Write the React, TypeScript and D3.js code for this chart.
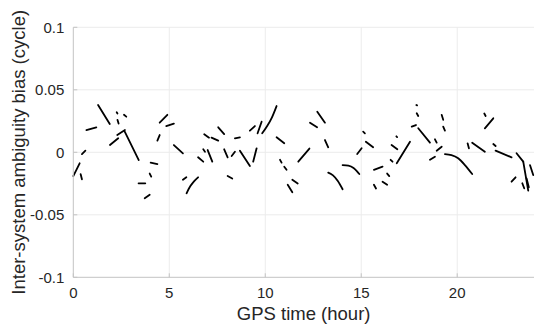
import React from "react";
import * as d3 from "d3";

// Each entry is one continuous ambiguity-bias arc: GPS time (hour) and bias (cycle)
const segmentHours: number[][] = [
  [0, 0.33], [0.38, 0.45], [0.45, 0.63], [0.68, 1.2], [1.29, 1.9],
  [1.91, 2.34], [2.29, 2.69], [2.68, 3.41], [2.26, 2.3], [2.3, 2.36],
  [2.64, 2.76], [4.03, 4.38], [3.98, 4.06], [3.4, 3.75], [3.72, 3.98],
  [4.5, 4.9], [4.84, 5.24], [4.38, 4.5], [5.24, 5.71], [5.71, 5.89],
  [5.9, 6.1, 6.3, 6.5], [6.5, 6.77], [6.77, 6.86], [7.0, 7.24], [6.82, 7.07],
  [7.2, 7.55], [7.55, 7.86], [7.86, 8.04], [8.25, 8.42], [8.42, 8.68],
  [8.04, 8.28], [8.68, 9.2], [9.37, 9.55], [9.2, 9.46], [9.6, 9.81],
  [9.84, 10.1, 10.35, 10.59], [10.59, 10.99], [10.77, 10.85], [10.99, 11.11], [11.17, 11.41],
  [11.41, 11.69], [11.72, 12.3], [12.33, 12.7], [12.71, 13.11], [13.11, 13.28],
  [13.28, 13.53, 13.78, 14.03], [14.03, 14.33, 14.6, 14.77, 14.9], [14.79, 15.02], [15.1, 15.19], [15.24, 15.62],
  [15.66, 16.11], [15.66, 15.77], [16.11, 16.35], [16.35, 16.46], [16.53, 16.63],
  [16.58, 16.88], [16.83, 16.87], [16.85, 17.54], [17.63, 17.85], [17.89, 17.97],
  [17.87, 17.91], [17.97, 18.58], [19.19, 19.27], [19.27, 19.36], [18.84, 18.93],
  [18.93, 19.19], [18.58, 18.84], [19.36, 19.7, 20.05, 20.4, 20.78], [20.54, 20.61], [20.78, 21.44],
  [21.41, 21.48], [21.44, 21.88], [21.88, 22.0], [22.0, 22.83], [23.09, 23.44],
  [23.44, 23.7], [23.79, 23.96], [22.83, 23.04], [23.39, 23.49], [23.61, 23.73],
];

const segmentBias: number[][] = [
  [-0.019, -0.0088], [-0.0174, -0.0216], [-0.0014, 0.0013], [0.0178, 0.02], [0.0378, 0.0226],
  [0.0058, 0.0112], [0.0138, 0.0178], [0.0165, -0.0062], [0.032, 0.031], [0.026, 0.023],
  [0.03, 0.0285], [-0.0083, -0.0094], [-0.017, -0.0195], [-0.0248, -0.0248], [-0.0368, -0.034],
  [0.0237, 0.03], [0.021, 0.023], [0.0093, 0.0138], [0.0058, -0.0008], [-0.022, -0.02],
  [-0.0328, -0.027, -0.023, -0.02], [-0.004, -0.0075], [0.0024, 0.0005], [0.0018, -0.0075], [0.0144, 0.0117],
  [0.0117, 0.0093], [0.02, 0.0146], [0.0024, -0.004], [-0.003, 0.0005], [0.0112, 0.012],
  [-0.019, -0.021], [0.0013, -0.011], [-0.0075, 0.0032], [0.0173, 0.021], [0.0152, 0.0245],
  [0.0152, 0.021, 0.028, 0.037], [0.012, 0.0072], [-0.006, -0.0083], [-0.0115, -0.014], [-0.026, -0.032],
  [-0.022, -0.025], [-0.0075, 0.003], [0.0237, 0.02], [0.0325, 0.0237], [0.0098, 0.004],
  [-0.0163, -0.0185, -0.023, -0.0296], [-0.0102, -0.0107, -0.0126, -0.015, -0.0174], [-0.0014, 0.0032], [0.0165, 0.0152], [0.0085, 0.004],
  [-0.014, -0.0115], [-0.026, -0.029], [-0.0235, -0.026], [-0.017, -0.019], [-0.006, -0.0075],
  [0.0058, 0.0024], [0.0128, 0.0122], [-0.0088, 0.0085], [0.0205, 0.0218], [0.0312, 0.029],
  [0.0378, 0.0375], [0.0192, 0.0077], [0.03, 0.026], [0.0205, 0.0173], [0.0104, 0.0077],
  [0.0013, 0.0045], [-0.006, -0.0035], [-0.0014, -0.0022, -0.0048, -0.0102, -0.0174], [0.0072, 0.0032], [0.0077, 0.0005],
  [0.031, 0.029], [0.0192, 0.0272], [0.0066, 0.005], [0.0013, -0.004], [-0.0008, -0.0075],
  [-0.0075, -0.0307], [-0.0102, -0.0182], [-0.0235, -0.02], [-0.0248, -0.0288], [-0.0208, -0.028],
];

const xTicks = [0, 5, 10, 15, 20];
const yTicks = [-0.1, -0.05, 0, 0.05, 0.1];
const yTickLabels = ["-0.1", "-0.05", "0", "0.05", "0.1"];

const W = 550;
const H = 334;
const margin = { left: 73.3, right: 16, top: 27.3, bottom: 56.7 };

export default function App() {
  const x = d3.scaleLinear().domain([0, 24]).range([margin.left, W - margin.right]);
  const y = d3.scaleLinear().domain([-0.1, 0.1]).range([H - margin.bottom, margin.top]);
  const line = d3
    .line<[number, number]>()
    .x((d) => x(d[0]))
    .y((d) => y(d[1]))
    .curve(d3.curveMonotoneX);

  const font = "'Liberation Sans', Arial, Helvetica, sans-serif";
  const axisColor = "#c4c4c4";
  const gridColor = "#ececec";
  const textColor = "#262626";
  const x0 = x(0);
  const y0 = y(-0.1);

  return (
    <svg
      width={W}
      height={H}
      style={{ position: "absolute", left: 0, top: 0, background: "#fff" }}
      fontFamily={font}
    >
      {/* grid */}
      {xTicks.filter((t) => t !== 0).map((t) => (
        <line key={"gx" + t} x1={x(t)} x2={x(t)} y1={y(-0.1)} y2={y(0.1)} stroke={gridColor} strokeWidth={1} />
      ))}
      {yTicks.filter((t) => t !== -0.1).map((t) => (
        <line key={"gy" + t} x1={x(0)} x2={x(24)} y1={y(t)} y2={y(t)} stroke={gridColor} strokeWidth={1} />
      ))}

      {/* data */}
      <g fill="none" stroke="#000" strokeWidth={1.8} strokeLinecap="round" strokeLinejoin="round">
        {segmentHours.map((hs, i) => {
          const pts: [number, number][] = hs.map((h, j) => [h, segmentBias[i][j]]);
          const sorted = pts.slice().sort((a, b) => a[0] - b[0]);
          return <path key={i} d={line(sorted) || ""} />;
        })}
      </g>

      {/* axes */}
      <line x1={x0} x2={x0} y1={y(0.1)} y2={y0} stroke={axisColor} strokeWidth={1} />
      <line x1={x0} x2={x(24)} y1={y0} y2={y0} stroke={axisColor} strokeWidth={1} />
      {xTicks.map((t) => (
        <g key={"xt" + t}>
          <line x1={x(t)} x2={x(t)} y1={y0} y2={y0 - 4} stroke={axisColor} />
          <text x={x(t)} y={y0 + 20.5} textAnchor="middle" fontSize={15} fill={textColor}>
            {t}
          </text>
        </g>
      ))}
      {yTicks.map((t, i) => (
        <g key={"yt" + t}>
          <line x1={x0} x2={x0 + 4} y1={y(t)} y2={y(t)} stroke={axisColor} />
          <text x={x0 - 9} y={y(t)} dy="0.36em" textAnchor="end" fontSize={15} fill={textColor}>
            {yTickLabels[i]}
          </text>
        </g>
      ))}

      <text x={(x(0) + x(24)) / 2} y={319.5} textAnchor="middle" fontSize={18.5} fill={textColor}>
        GPS time (hour)
      </text>
      <text
        transform={`translate(25,${(y(0.1) + y(-0.1)) / 2}) rotate(-90)`}
        textAnchor="middle"
        fontSize={18.5}
        fill={textColor}
      >
        Inter-system ambiguity bias (cycle)
      </text>
    </svg>
  );
}
